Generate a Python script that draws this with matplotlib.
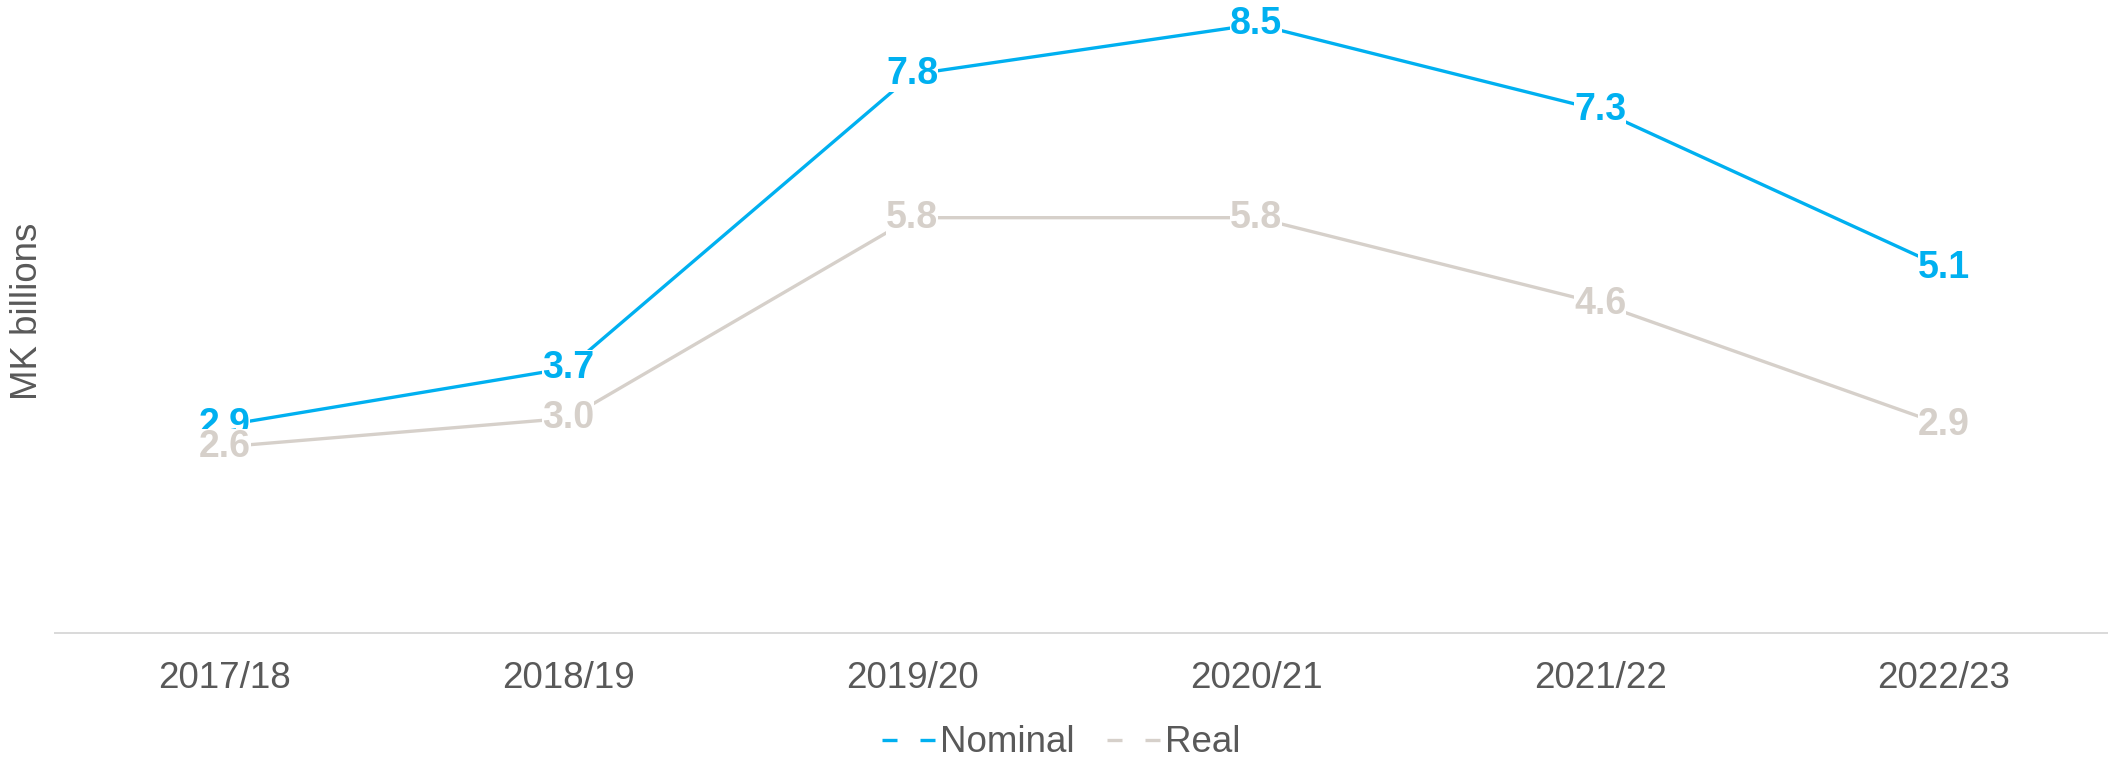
import matplotlib
matplotlib.use("Agg")
import matplotlib.pyplot as plt
from matplotlib.lines import Line2D

years = ["2017/18", "2018/19", "2019/20", "2020/21", "2021/22", "2022/23"]
nominal = [2.9, 3.7, 7.8, 8.5, 7.3, 5.1]
real = [2.6, 3.0, 5.8, 5.8, 4.6, 2.9]

BLUE = "#00B0F0"
GREY = "#D6D0CA"
TXT = "#595959"

plt.rcParams['font.family'] = ['Liberation Sans', 'DejaVu Sans']

fig = plt.figure(figsize=(21.08, 7.61), dpi=100)
ax = fig.add_axes([55/2108, 1-633/761, 1-55/2108, 633/761])

x = list(range(len(years)))
ax.plot(x, nominal, color=BLUE, lw=2.4, zorder=2)
ax.plot(x, real, color=GREY, lw=2.4, zorder=2)

for xi, v in zip(x, nominal):
    ax.text(xi, v, f"{v:.1f}", ha="center", va="center", fontsize=27,
            fontweight="bold", color=BLUE, zorder=3,
            bbox=dict(facecolor="white", edgecolor="none", pad=0))
for xi, v in zip(x, real):
    ax.text(xi, v, f"{v:.1f}", ha="center", va="center", fontsize=27,
            fontweight="bold", color=GREY, zorder=4,
            bbox=dict(facecolor="white", edgecolor="none", pad=0))

ax.set_xlim(-0.493, 5.477)
ax.set_ylim(0, 8.84)
ax.set_xticks(x)
ax.set_xticklabels(years, fontsize=26.5, color=TXT)
ax.tick_params(axis="x", length=0, pad=20)
ax.set_yticks([])
for s in ["top", "right", "left"]:
    ax.spines[s].set_visible(False)
ax.spines["bottom"].set_color("#D9D9D9")
ax.spines["bottom"].set_linewidth(1.4)

fig.text(28/2108, 1-311/761, "MK billions", rotation=90, ha="center",
         va="center", fontsize=26.4, color=TXT)

handles = [Line2D([], [], color=BLUE, lw=2.4, linestyle=(0, (4.5, 6.9))),
           Line2D([], [], color=GREY, lw=2.4, linestyle=(0, (4.5, 6.9)))]
leg = fig.legend(handles, ["Nominal", "Real"], loc="center",
                 bbox_to_anchor=(1061/2108, 1-743/761), ncol=2, frameon=False,
                 handlelength=1.47, handletextpad=0.11, columnspacing=0.87,
                 borderpad=0, prop={"size": 26.5})
for t in leg.get_texts():
    t.set_color(TXT)

fig.savefig("out.png", dpi=100)
